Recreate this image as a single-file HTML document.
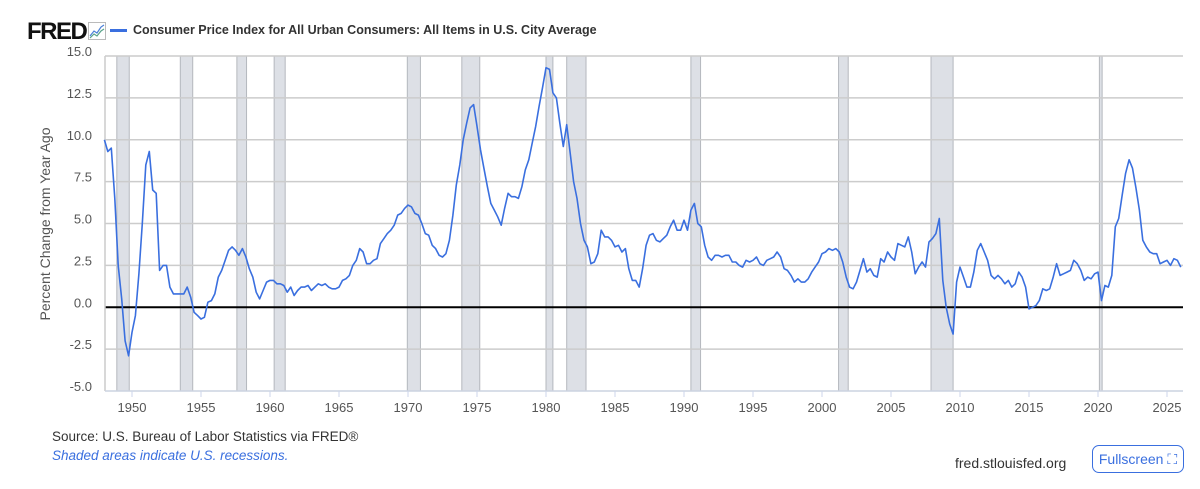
<!DOCTYPE html>
<html><head><meta charset="utf-8"><style>
body{margin:0;width:1200px;height:489px;background:#fff;font-family:"Liberation Sans",sans-serif;overflow:hidden;position:relative}
.t{position:absolute;white-space:nowrap}
</style></head><body>
<div class="t" style="left:27px;top:18px;font-size:24px;font-weight:bold;letter-spacing:-1.5px;color:#111">FRED</div>
<svg class="t" style="left:88px;top:22px" width="18" height="18"><rect x="0.5" y="0.5" width="17" height="17" fill="#fff" stroke="#bbb"/><polyline points="2,14 6,9 9,11 13,5 16,3" fill="none" stroke="#4a7fd8" stroke-width="1.2"/><polyline points="2,16 6,12 9,14 13,9 16,7" fill="none" stroke="#5aa48a" stroke-width="1.2"/></svg>
<div class="t" style="left:110px;top:23px;font-size:12.5px;font-weight:bold;color:#333"><span style="display:inline-block;width:17px;height:3px;background:#3a6fdf;vertical-align:middle;margin-right:6px"></span>Consumer Price Index for All Urban Consumers: All Items in U.S. City Average</div>
<div class="t" style="left:45px;top:224px;font-size:14px;color:#555;transform:translate(-50%,-50%) rotate(-90deg)">Percent Change from Year Ago</div>
<svg id="chart" width="1200" height="430" style="position:absolute;left:0;top:0"></svg>
<div class="t" style="left:52px;top:429px;font-size:13.5px;color:#333">Source: U.S. Bureau of Labor Statistics via FRED®</div>
<div class="t" style="left:52px;top:448px;font-size:13.5px;color:#3a6fdf;font-style:italic">Shaded areas indicate U.S. recessions.</div>
<div class="t" style="left:955px;top:455px;font-size:14px;color:#333">fred.stlouisfed.org</div>
<div class="t" style="left:1092px;top:445px;width:92px;height:28px;border:1px solid #3a6fdf;border-radius:7px;box-sizing:border-box;color:#3a6fdf;font-size:14px;line-height:26px;text-align:center">Fullscreen ⛶</div>
<script>
const startYear=1948;
const values=[10.0,9.3,9.5,6.5, 2.5,0.5,-2.0,-2.9, -1.5,-0.5,2.0,5.0, 8.5,9.3,7.0,6.8, 2.2,2.5,2.5,1.2, 0.8,0.8,0.8,0.8, 1.2,0.6,-0.3,-0.5, -0.7,-0.6,0.3,0.4, 0.8,1.8,2.2,2.8, 3.4,3.6,3.4,3.1, 3.5,3.0,2.3,1.8, 0.9,0.5,1.0,1.5, 1.6,1.6,1.4,1.4, 1.3,0.9,1.2,0.7, 1.0,1.2,1.2,1.3, 1.0,1.2,1.4,1.3, 1.4,1.2,1.1,1.1, 1.2,1.6,1.7,1.9, 2.5,2.8,3.5,3.3, 2.6,2.6,2.8,2.9, 3.8,4.1,4.4,4.6, 4.9,5.5,5.6,5.9, 6.1,6.0,5.6,5.5, 5.0,4.4,4.3,3.7, 3.5,3.1,3.0,3.2, 4.0,5.5,7.3,8.5, 10.0,11.0,11.9,12.1, 10.8,9.4,8.3,7.2, 6.2,5.8,5.4,4.9, 5.9,6.8,6.6,6.6, 6.5,7.2,8.2,8.8, 9.8,10.8,12.0,13.1, 14.3,14.2,12.8,12.5, 11.0,9.6,10.9,9.2, 7.5,6.5,5.0,4.0, 3.6,2.6,2.7,3.2, 4.6,4.2,4.2,4.0, 3.6,3.7,3.3,3.5, 2.3,1.6,1.6,1.2, 2.3,3.7,4.3,4.4, 4.0,3.9,4.1,4.3, 4.8,5.2,4.6,4.6, 5.2,4.6,5.8,6.2, 5.0,4.8,3.7,3.0, 2.8,3.1,3.1,3.0, 3.1,3.1,2.7,2.7, 2.5,2.4,2.8,2.7, 2.8,3.0,2.6,2.5, 2.8,2.9,3.0,3.3, 3.0,2.3,2.2,1.9, 1.5,1.7,1.5,1.5, 1.7,2.1,2.4,2.7, 3.2,3.3,3.5,3.4, 3.5,3.3,2.7,1.8, 1.2,1.1,1.5,2.2, 2.9,2.1,2.3,1.9, 1.8,2.9,2.7,3.3, 3.0,2.8,3.8,3.7, 3.6,4.2,3.3,2.0, 2.4,2.7,2.4,3.9, 4.1,4.4,5.3,1.6, 0.0,-1.0,-1.6,1.5, 2.4,1.8,1.2,1.2, 2.1,3.4,3.8,3.3, 2.8,1.9,1.7,1.9, 1.7,1.4,1.6,1.2, 1.4,2.1,1.8,1.2, -0.1,0.0,0.1,0.4, 1.1,1.0,1.1,1.8, 2.6,1.9,2.0,2.1, 2.2,2.8,2.6,2.2, 1.6,1.8,1.7,2.0, 2.1,0.4,1.3,1.2, 1.9,4.8,5.3,6.7, 8.0,8.8,8.3,7.1, 5.8,4.0,3.6,3.3, 3.2,3.2,2.6,2.7, 2.8,2.5,2.9,2.8, 2.4];
const recStarts=[1948.9,1953.5,1957.6,1960.3,1969.95,1973.9,1980.0,1981.5,1990.5,2001.2,2007.9,2020.1];
const recEnds=[1949.8,1954.4,1958.3,1961.1,1970.9,1975.2,1980.5,1982.9,1991.2,2001.9,2009.5,2020.3];
const yTicks=[15.0,12.5,10.0,7.5,5.0,2.5,0.0,-2.5,-5.0];
const xTicks=[1950,1955,1960,1965,1970,1975,1980,1985,1990,1995,2000,2005,2010,2015,2020,2025];
const L=105,R=1183,T=56,B=391;
const x=t=>132+(t-1950)*13.8;
const y=v=>T+(15-v)*(B-T)/20;
const svg=document.getElementById('chart'),NS='http://www.w3.org/2000/svg';
function mk(tag,attrs){const e=document.createElementNS(NS,tag);for(const k in attrs)e.setAttribute(k,attrs[k]);svg.appendChild(e);return e;}
recStarts.forEach((s,i)=>{const r=mk('rect',{x:x(s),y:T,width:Math.max(1.5,x(recEnds[i])-x(s)),height:B-T,fill:'#dde0e6',stroke:'#b5b8be','stroke-width':1});

});
yTicks.forEach(v=>{const g=mk('line',{x1:L,x2:R,y1:y(v),y2:y(v),stroke:v===0?'#000':'#ccc','stroke-width':v===0?2:1.5});


const t=mk('text',{x:92,y:y(v),'text-anchor':'end','font-size':13,fill:'#555','font-family':'Liberation Sans'});t.textContent=v.toFixed(1);

});
mk('line',{x1:L,x2:L,y1:T,y2:B,stroke:'#ccc','stroke-width':1.5});
xTicks.forEach(v=>{const tk=mk('line',{x1:x(v),x2:x(v),y1:B,y2:B+6,stroke:'#ccd6eb','stroke-width':1});


const t=mk('text',{x:x(v),y:B+21,'text-anchor':'middle','font-size':13,fill:'#555','font-family':'Liberation Sans'});t.textContent=v;

});
mk('line',{x1:L,x2:R,y1:B,y2:B,stroke:'#ccd6eb','stroke-width':1});
const pts=values.map((v,i)=>x(startYear+i*0.25).toFixed(1)+','+y(v).toFixed(1)).join(' ');
const line=mk('polyline',{points:pts,fill:'none',stroke:'#3a6fdf','stroke-width':1.6,'stroke-linejoin':'round'});


</script>
</body></html>
